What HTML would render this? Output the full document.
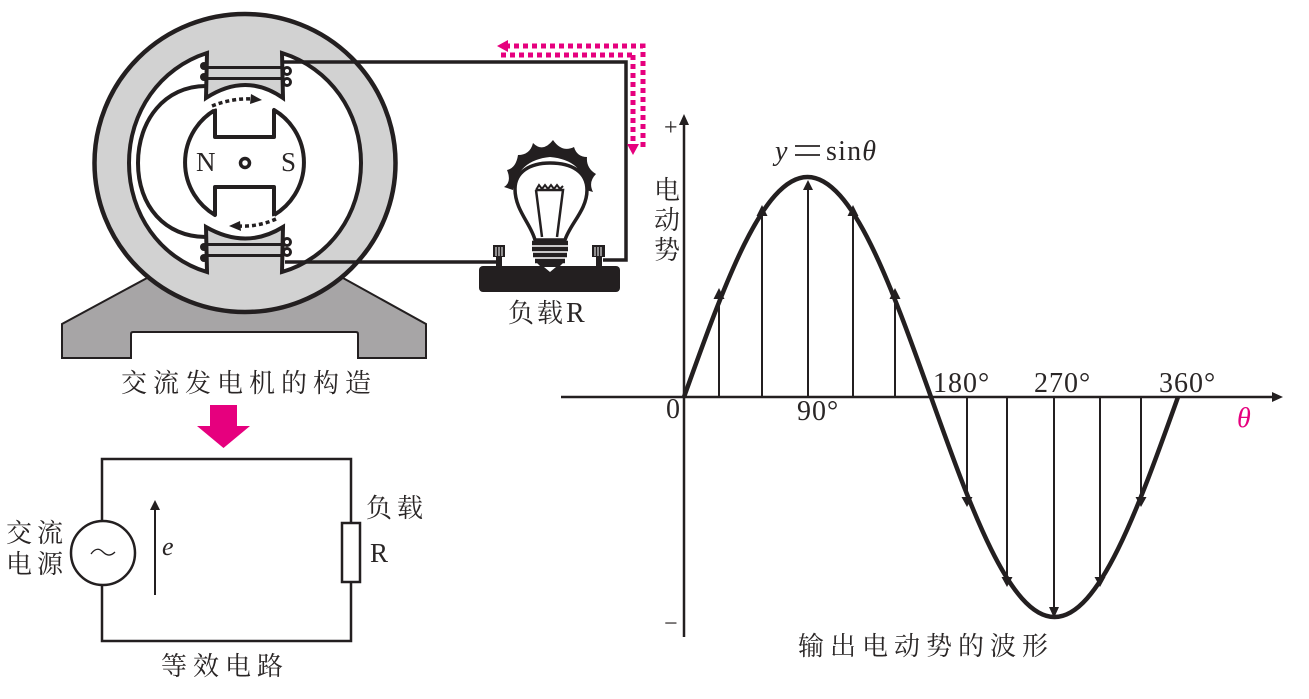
<!DOCTYPE html>
<html><head><meta charset="utf-8"><style>
html,body{margin:0;padding:0;background:#fff;width:1309px;height:699px;overflow:hidden}
svg{display:block}
.c{font-family:"Liberation Serif","Noto Serif CJK SC",serif;fill:#2a2626}
</style></head><body>
<svg width="1309" height="699" viewBox="0 0 1309 699" xmlns="http://www.w3.org/2000/svg">
<!-- base -->
<path d="M147 278 L62 324 V358 H131 V334 Q131 332 133 332 H356 Q358 332 358 334 V358 H426 V324 L343 278Z" fill="#a7a5a6" stroke="#231f20" stroke-width="2"/>
<!-- housing -->
<ellipse cx="245" cy="163" rx="150.500" ry="149" fill="#d2d2d2" stroke="#231f20" stroke-width="4.500"/>
<!-- stator cavity -->
<path d="M207 53 C160 68 129 112 129 163 C129 214 160 258 207 272 L206 227 Q246 250 283 227 L282 272 C330 258 361 214 361 163 C361 112 330 68 282 53 L283 98 Q246 72 206 98 Z" fill="#fff" stroke="#231f20" stroke-width="4" stroke-linejoin="miter"/>
<path d="M206 86 C165 86 138 120 138 163 C138 206 165 237 206 237" fill="none" stroke="#231f20" stroke-width="4"/>
<!-- coils -->
<g fill="none" stroke="#231f20" stroke-width="3">
<path d="M205 67.500 H284 M205 78.500 H284 M205 244.500 H284 M205 255.500 H284"/>
<circle cx="287" cy="71" r="3.500"/><circle cx="287" cy="82" r="3.500"/>
<circle cx="287" cy="242" r="3.500"/><circle cx="287" cy="252" r="3.500"/>
</g>
<g fill="#231f20"><circle cx="204" cy="66" r="4"/><circle cx="204" cy="77" r="4"/><circle cx="204" cy="247" r="4"/><circle cx="204" cy="258" r="4"/></g>
<!-- rotor -->
<path d="M215 110 A61 61 0 0 0 215 215 V187 H274 V215 A61 61 0 0 0 274 110 V137 H215Z" fill="#fff" stroke="#231f20" stroke-width="4" stroke-linejoin="round"/>
<circle cx="245" cy="163" r="4.500" fill="#fff" stroke="#231f20" stroke-width="3.500"/>
<text class="c" x="196" y="171" font-size="27">N</text>
<text class="c" x="281" y="171" font-size="27">S</text>
<!-- rotation arrows -->
<path d="M212 106 Q232 98 252 99" fill="none" stroke="#fff" stroke-width="7"/>
<path d="M212 106 Q232 98 252 99" fill="none" stroke="#231f20" stroke-width="3.500" stroke-dasharray="4 3"/>
<path d="M251 94 L262 100 L250 104Z" fill="#231f20"/>
<path d="M276 219 Q258 227 239 226" fill="none" stroke="#fff" stroke-width="7"/>
<path d="M276 219 Q258 227 239 226" fill="none" stroke="#231f20" stroke-width="3.500" stroke-dasharray="4 3"/>
<path d="M240 221 L229 226 L241 231Z" fill="#231f20"/>
<!-- wires -->
<path d="M284 62 H626 V260 H603" fill="none" stroke="#231f20" stroke-width="3.500"/>
<path d="M285 262 H497" fill="none" stroke="#231f20" stroke-width="3.500"/>
<!-- magenta current -->
<path d="M505 46 H643 V147 M632 55 H500 M633 55 V145" fill="none" stroke="#e6007e" stroke-width="5" stroke-dasharray="5 4"/>
<path d="M497 46 L508 40 V52Z M633 155 L627 144 H639Z" fill="#e6007e"/>
<!-- bulb -->
<path d="M504 187 Q512 182 507 170 Q516 168 518 155 Q530 155 533 143 Q543 153 553 140 Q562 153 574 147 Q577 157 587 157 Q586 168 596 174 Q588 182 593 192 L586 190 Q584 160 550 157 Q518 160 513 190Z" fill="#231f20"/>
<path d="M516 187 A35 30 0 0 1 585 187" fill="none" stroke="#fff" stroke-width="2" stroke-dasharray="2 1.500"/>
<path d="M535 240 C531 224 515 210 515 189 C515 172 530 163 550 163 C572 163 587 172 587 190 C587 210 570 224 565 240Z" fill="#fff" stroke="#231f20" stroke-width="3.500"/>
<path d="M536 190 L539 185 L542 189 L545 185 L548 189 L551 185 L554 189 L557 185 L560 189 L563 186" fill="none" stroke="#231f20" stroke-width="2"/>
<path d="M536 190 L563 190 L557 237 M536 190 L542 237" fill="none" stroke="#231f20" stroke-width="2.500"/>
<path d="M532 243 H568 M532 249 H568 M533 255 H567 M535 261 H565" stroke="#231f20" stroke-width="4.500" fill="none"/>
<path d="M537 263 L550 276 L563 263Z" fill="#231f20"/>
<rect x="479" y="266" width="141" height="26" rx="4" fill="#231f20"/>
<path d="M544 267 L550 272 L556 267Z" fill="#fff"/>
<path d="M493 245 H505 V257 H493Z M592 245 H605 V257 H592Z" fill="#231f20"/>
<path d="M496 247 V256 M499 247 V256 M502 247 V256 M595 247 V256 M598 247 V256 M601 247 V256" stroke="#fff" stroke-width="1"/>
<rect x="496" y="257" width="6" height="9" fill="#231f20"/><rect x="596" y="257" width="6" height="9" fill="#231f20"/>
<text class="c" x="508" y="322" font-size="26" letter-spacing="3">负载<tspan font-size="28" letter-spacing="0">R</tspan></text>
<!-- captions -->
<text class="c" x="121" y="392" font-size="26" letter-spacing="6">交流发电机的构造</text>
<path d="M210 405 H237 V426 H250 L223.500 448 L197 426 H210Z" fill="#e6007e"/>
<!-- circuit -->
<rect x="102" y="459" width="249" height="182" fill="none" stroke="#231f20" stroke-width="2.500"/>
<circle cx="103" cy="553" r="32" fill="#fff" stroke="#231f20" stroke-width="2.500"/>
<path d="M91 554 C96 547 100 549 103 552 C107 556 111 556 115 552" fill="none" stroke="#231f20" stroke-width="1.300"/>
<rect x="342" y="523" width="18" height="59" fill="#fff" stroke="#231f20" stroke-width="2.500"/>
<path d="M155 595 V507" stroke="#231f20" stroke-width="2"/>
<path d="M155 500 L150 510 H160Z" fill="#231f20"/>
<text class="c" x="162" y="555" font-size="26" font-style="italic">e</text>
<text class="c" x="6" y="542" font-size="26" letter-spacing="5">交流</text>
<text class="c" x="6" y="573" font-size="26" letter-spacing="5">电源</text>
<text class="c" x="366" y="517" font-size="26" letter-spacing="5">负载</text>
<text class="c" x="370" y="562" font-size="27">R</text>
<text class="c" x="161" y="675" font-size="26" letter-spacing="6">等效电路</text>
<!-- axes -->
<path d="M684 125 V637 M561 397 H1272" stroke="#231f20" stroke-width="2.500" fill="none"/>
<path d="M684 114 L679 125 H689Z M1283 397 L1272 392 V402Z" fill="#231f20"/>
<!-- value arrows -->
<g stroke="#231f20" stroke-width="2" fill="none">
<path d="M719 397 V295 M762 397 V212 M808 397 V187 M853 397 V212 M895 397 V295"/>
<path d="M967 397 V500 M1007 397 V580 M1054 397 V610 M1100 397 V580 M1141 397 V500"/>
</g>
<path fill="#231f20" d="M719 288 L713.500 299 H724.500Z M762 205 L756.500 216 H767.500Z M808 180 L803 190 H813Z M853 205 L847.500 216 H858.500Z M895 288 L889.500 299 H900.500Z
M967 507 L961.500 497 H972.500Z M1007 587 L1001.500 577 H1012.500Z M1054 618 L1049 607 H1059Z M1100 587 L1094.500 577 H1105.500Z M1141 507 L1135.500 497 H1146.500Z"/>
<!-- sine -->
<path d="M684 397 C724.300 284.300 762.800 177 807.500 177 C852.200 177 890.700 284.300 931 397 C971.300 509.700 1009.800 617 1054.500 617 C1099.200 617 1137.700 509.700 1178 397" fill="none" stroke="#231f20" stroke-width="4.500"/>
<!-- labels -->
<text class="c" x="664" y="135" font-size="24">+</text>
<text class="c" x="664" y="631" font-size="24">−</text>
<text class="c" x="654" y="199" font-size="26">电</text>
<text class="c" x="654" y="229" font-size="26">动</text>
<text class="c" x="654" y="259" font-size="26">势</text>
<text class="c" x="775" y="160" font-size="28" font-style="italic">y</text>
<path d="M795 146 H820 M795 155 H820" stroke="#2a2626" stroke-width="1.800"/>
<text class="c" x="826" y="160" font-size="28" letter-spacing="1.200">sin<tspan font-style="italic">θ</tspan></text>
<text class="c" x="666" y="418" font-size="28">0</text>
<text class="c" x="797" y="420" font-size="28" letter-spacing="1">90°</text>
<text class="c" x="933" y="392" font-size="28" letter-spacing="1">180°</text>
<text class="c" x="1034" y="392" font-size="28" letter-spacing="1">270°</text>
<text class="c" x="1159" y="392" font-size="28" letter-spacing="1">360°</text>
<text x="1237" y="427" font-size="28" font-style="italic" font-family="Liberation Serif, serif" fill="#e6007e">θ</text>
<text class="c" x="798" y="655" font-size="26" letter-spacing="6">输出电动势的波形</text>
</svg>
</body></html>
